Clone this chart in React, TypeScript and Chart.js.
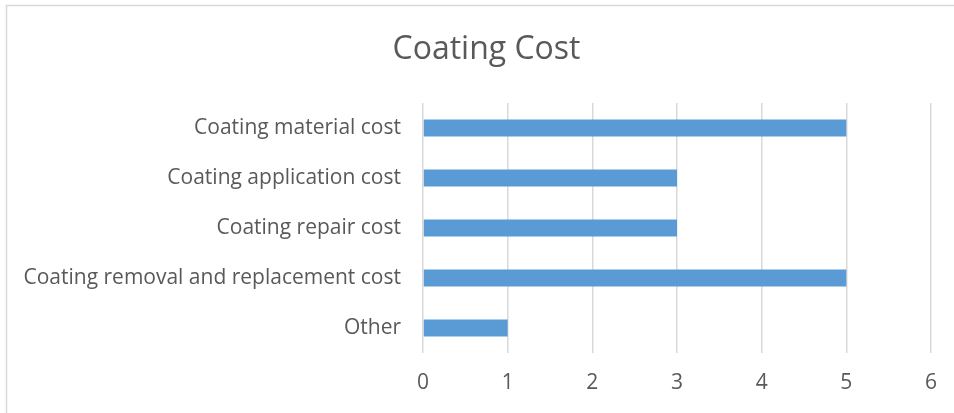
import React, { useEffect, useRef } from "react";
import { Chart, registerables } from "chart.js";

Chart.register(...registerables);

const categories = [
  "Coating material cost",
  "Coating application cost",
  "Coating repair cost",
  "Coating removal and replacement cost",
  "Other",
];
const values = [5, 3, 3, 5, 1];
const titleText = "Coating Cost";

const FONT = "'Open Sans', 'Noto Sans', sans-serif";
const TEXT = "#595959";
const GRID = "#d9d9d9";

const borderPlugin = {
  id: "outerBorder",
  beforeDraw(chart: any) {
    const ctx = chart.ctx;
    ctx.save();
    ctx.fillStyle = "#ffffff";
    ctx.fillRect(0, 0, chart.width, chart.height);
    ctx.strokeStyle = GRID;
    ctx.lineWidth = 1.5;
    ctx.strokeRect(6.5, 5.5, chart.width + 20, chart.height + 20);
    ctx.restore();
  },
};

const titlePlugin = {
  id: "offsetTitle",
  afterDraw(chart: any) {
    const ctx = chart.ctx;
    ctx.save();
    ctx.fillStyle = TEXT;
    ctx.font = `normal 32px ${FONT}`;
    ctx.textAlign = "center";
    ctx.textBaseline = "middle";
    ctx.fillText(titleText, 486.5, 50);
    ctx.restore();
  },
};

export default function App() {
  const ref = useRef<HTMLCanvasElement>(null);
  useEffect(() => {
    document.body.style.margin = "0";
    const chart = new Chart(ref.current!, {
      type: "bar",
      data: {
        labels: categories,
        datasets: [
          {
            data: values,
            backgroundColor: "#5B9BD5",
            borderWidth: 0,
            barPercentage: 0.34,
            categoryPercentage: 1,
          },
        ],
      },
      options: {
        indexAxis: "y",
        animation: false,
        responsive: false,
        maintainAspectRatio: false,
        layout: { padding: { left: 0, right: 23, top: 103, bottom: 0 } },
        plugins: {
          legend: { display: false },
          tooltip: { enabled: false },
          title: { display: false },
        },
        scales: {
          x: {
            min: 0,
            max: 6,
            ticks: {
              stepSize: 1,
              color: TEXT,
              font: { family: FONT, size: 21 },
              padding: 17,
            },
            grid: { color: GRID, lineWidth: 1.5, drawTicks: false },
            border: { display: false },
            afterFit: (s: any) => {
              s.height = 60;
            },
          },
          y: {
            ticks: {
              color: TEXT,
              font: { family: FONT, size: 21 },
              padding: 22,
            },
            grid: { display: false, drawTicks: false },
            border: { display: false },
            afterFit: (s: any) => {
              s.width = 423;
            },
          },
        },
      },
      plugins: [borderPlugin, titlePlugin],
    });
    return () => chart.destroy();
  }, []);
  return (
    <div style={{ width: 954, height: 413 }}>
      <canvas ref={ref} width={954} height={413} style={{ display: "block" }} />
    </div>
  );
}
